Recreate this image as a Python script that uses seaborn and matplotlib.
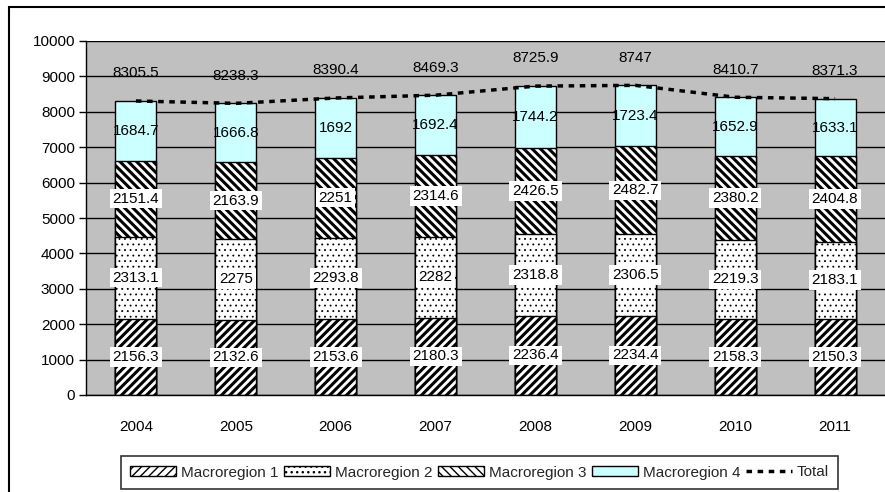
import numpy as np
import matplotlib.pyplot as plt
import seaborn as sns
from matplotlib.patches import Patch, Rectangle
from matplotlib.lines import Line2D

years = ['2004', '2005', '2006', '2007', '2008', '2009', '2010', '2011']
region1 = [2156.3, 2132.6, 2153.6, 2180.3, 2236.4, 2234.4, 2158.3, 2150.3]
region2 = [2313.1, 2275, 2293.8, 2282, 2318.8, 2306.5, 2219.3, 2183.1]
region3 = [2151.4, 2163.9, 2251, 2314.6, 2426.5, 2482.7, 2380.2, 2404.8]
region4 = [1684.7, 1666.8, 1692, 1692.4, 1744.2, 1723.4, 1652.9, 1633.1]
total = [8305.5, 8238.3, 8390.4, 8469.3, 8725.9, 8747, 8410.7, 8371.3]
names = ['Macroregion 1', 'Macroregion 2', 'Macroregion 3', 'Macroregion 4']

sns.set_theme(style='white')
plt.rcParams['font.family'] = ['Liberation Sans', 'DejaVu Sans']

# colour, hatch, hatch line width for each region
styles = [('white', '////', 2.2), ('white', '...', 0.6),
          ('white', '\\\\\\\\', 2.2), ('#CCFFFF', '', 1.0)]
fs = 11

fig = plt.figure(figsize=(8.85, 4.92), dpi=100)
ax = fig.add_axes([86 / 885, 1 - 395 / 492, 1 - 86 / 885, (395 - 41) / 492])
ax.set_facecolor('#C0C0C0')

series = [region1, region2, region3, region4]
stacks = np.cumsum(np.array(series), axis=0)

# draw cumulative bars from the top down so lower pieces cover the rest
for i in range(3, -1, -1):
    color, hatch, hlw = styles[i]
    with plt.rc_context({'hatch.linewidth': hlw}):
        sns.barplot(x=years, y=stacks[i], color=color, saturation=1, hatch=hatch,
                    width=0.41, edgecolor='black', linewidth=1, ax=ax, zorder=2)

sns.lineplot(x=np.arange(len(years)), y=total, color='black', lw=2.5,
             linestyle=(0, (1.6, 1.6)), ax=ax, zorder=3)

# segment labels
for i, vals in enumerate(series):
    bottoms = stacks[i] - np.array(vals)
    for j, v in enumerate(vals):
        box = dict(facecolor='white', edgecolor='none', pad=2) if i < 3 else None
        ax.text(j, bottoms[j] + v / 2, f'{v:g}', ha='center', va='center',
                fontsize=fs, color='black', bbox=box, zorder=4)

for j, v in enumerate(total):
    ax.text(j, v + 780, f'{v:g}', ha='center', va='center', fontsize=fs,
            color='black', zorder=4)

ax.set_xlim(-0.5, 7.5)
ax.set_ylim(0, 10000)
ax.set_yticks(np.arange(0, 10001, 1000))
ax.set_yticklabels([str(t) for t in range(0, 10001, 1000)])
ax.set_xticks(range(len(years)))
ax.set_xticklabels(years)
ax.set_xticks(np.arange(-0.5, 8, 1), minor=True)
ax.tick_params(axis='x', which='major', length=0, pad=18, labelsize=fs,
               colors='black')
ax.tick_params(axis='x', which='minor', length=5, width=1, direction='out',
               color='black')
ax.tick_params(axis='y', length=5, width=1, direction='out', left=True,
               labelsize=fs, colors='black', pad=3)
ax.yaxis.grid(True, color='black', lw=1)
ax.set_axisbelow(True)
ax.set_xlabel('')
ax.set_ylabel('')
for side in ['top', 'right']:
    ax.spines[side].set_visible(False)
for side in ['left', 'bottom']:
    ax.spines[side].set_color('black')
    ax.spines[side].set_linewidth(1)

handles = []
for i in range(4):
    color, hatch, hlw = styles[i]
    with plt.rc_context({'hatch.linewidth': hlw}):
        handles.append(Patch(facecolor=color, edgecolor='black', hatch=hatch, lw=1))
handles.append(Line2D([], [], color='black', lw=2.5, linestyle=(0, (1.6, 1.6))))

leg = fig.legend(handles, names + ['Total'], loc='center',
                 bbox_to_anchor=(479.5 / 885, 1 - 472.5 / 492), ncol=5,
                 frameon=True, fancybox=False, edgecolor='black', fontsize=fs,
                 handlelength=3.0, handleheight=0.6, handletextpad=0.3,
                 columnspacing=0.4, borderpad=0.6, borderaxespad=0)
leg.get_frame().set_linewidth(1.2)

# outer chart border (runs off the right and bottom edges)
fig.patches.append(Rectangle((9 / 885, -0.05), 1.0, 1.05 - 7 / 492, fill=False,
                             edgecolor='black', lw=1.5, transform=fig.transFigure,
                             clip_on=False))

fig.savefig('out.png', dpi=100, facecolor='white')
